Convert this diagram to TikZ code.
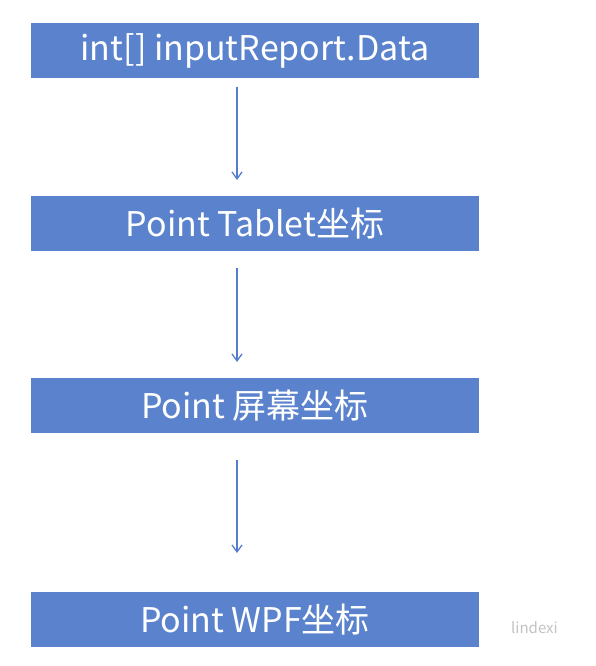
\documentclass[tikz,border=0pt]{standalone}
\usepackage{fontspec}
\setmainfont{Noto Sans CJK SC}
\usetikzlibrary{arrows.meta}
\definecolor{boxblue}{RGB}{91,130,204}
\definecolor{arrowblue}{RGB}{85,125,205}
\definecolor{wmgrey}{RGB}{195,195,195}
\begin{document}
\begin{tikzpicture}[x=1pt,y=-1pt,
  stepbox/.style={fill=boxblue,draw=none,minimum width=448pt,minimum height=55pt,inner sep=0pt,text=white,font=\fontsize{34}{36}\selectfont},
  flow/.style={draw=arrowblue,line width=1.3pt,-{Straight Barb[length=7pt,width=10pt]}}]
\useasboundingbox (0,0) rectangle (595,666);
\fill[white] (0,0) rectangle (595,666);
\node[stepbox] (b1) at (255,50.5) {int[] inputReport.Data};
\node[stepbox] (b2) at (255,223.5) {Point Tablet坐标};
\node[stepbox] (b3) at (255,405.5) {Point 屏幕坐标};
\node[stepbox] (b4) at (255,619.5) {Point WPF坐标};
\node[text=wmgrey,font=\fontsize{15}{17}\selectfont,anchor=base west,inner sep=0pt] (wm) at (511,633) {lindexi};
\coordinate (a1s) at (237,87);
\coordinate (a1e) at (237,180);
\coordinate (a2s) at (237,268);
\coordinate (a2e) at (237,362);
\coordinate (a3s) at (237,460);
\coordinate (a3e) at (237,553);
\draw[flow] (a1s) -- (a1e);
\draw[flow] (a2s) -- (a2e);
\draw[flow] (a3s) -- (a3e);
\end{tikzpicture}
\end{document}
